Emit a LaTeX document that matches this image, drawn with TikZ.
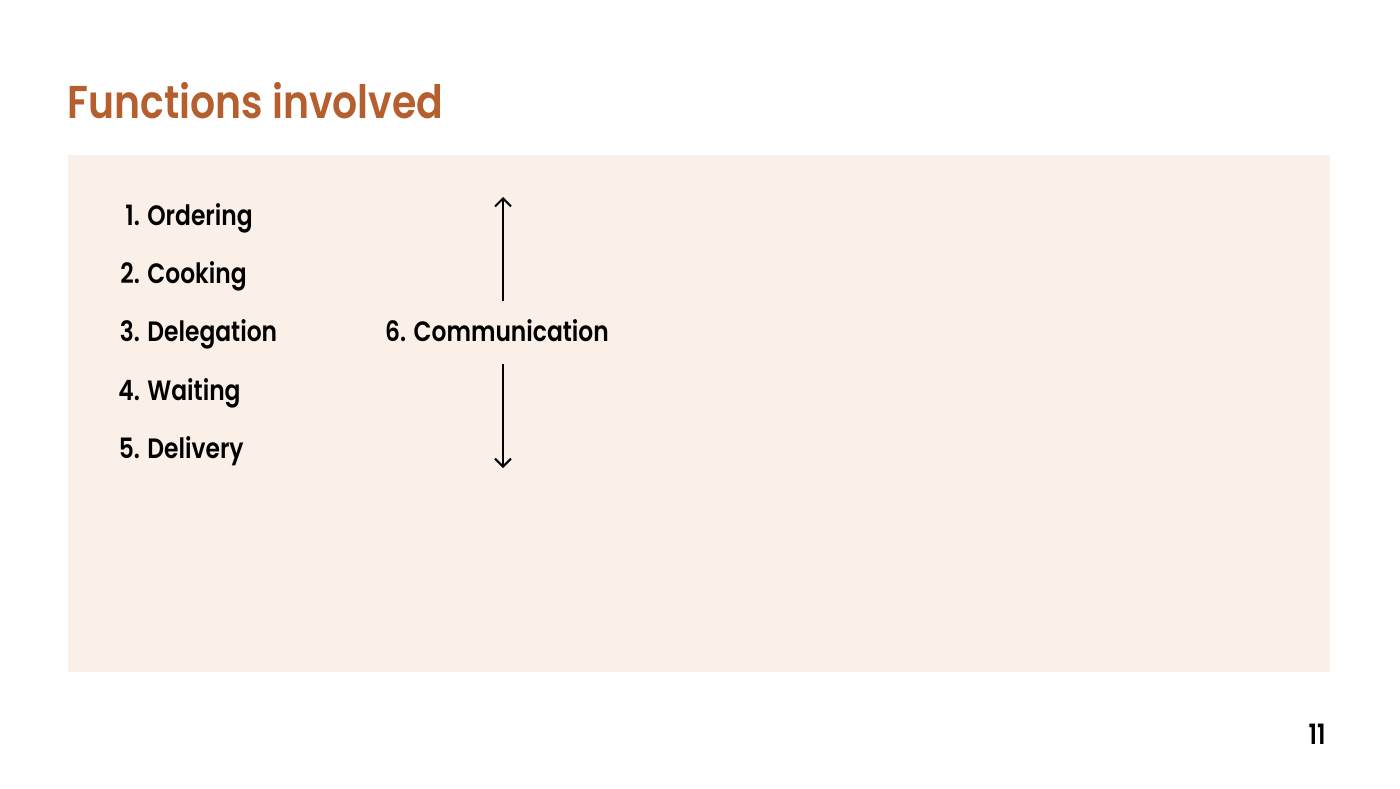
\documentclass[tikz,border=0pt]{standalone}
\usepackage{fontspec}
\setmainfont{Poppins}
\newfontfamily\popsemi{Poppins SemiBold}[FakeStretch=0.835]
\newfontfamily\popttl{Poppins SemiBold}[FakeStretch=0.856]
\usetikzlibrary{arrows.meta}
\definecolor{panel}{HTML}{FAF0E8}
\definecolor{titlec}{HTML}{B55E2E}
\tikzset{
  item/.style={anchor=base west, inner sep=0pt, font=\popsemi\fontsize{14}{16}\selectfont, text=black},
  ttl/.style={anchor=base west, inner sep=0pt, font=\popttl\fontsize{23}{26}\selectfont, text=titlec},
  arr/.style={draw=black, line width=1pt, -{Straight Barb[length=4pt,width=8pt]}}
}
\begin{document}
\begin{tikzpicture}[x=0.5pt,y=-0.5pt]
\useasboundingbox (0,0) rectangle (1400,788);
\fill[white] (0,0) rectangle (1400,788);
\fill[panel] (68,155) rectangle (1330,672);
\node[ttl] (title) at (67,118) {Functions involved};
\node[item] (i1) at (147,225) {\llap{1. }Ordering};
\node[item] (i2) at (147,283) {\llap{2. }Cooking};
\node[item] (i3) at (147,341) {\llap{3. }Delegation};
\node[item] (i4) at (147,400) {\llap{4. }Waiting};
\node[item] (i5) at (147,458) {\llap{5. }Delivery};
\node[item, anchor=base] (comm) at (497,341) {6. Communication};
\coordinate (top) at (503,197);
\coordinate (bot) at (503,468);
\coordinate (ts) at (503,301);
\coordinate (bs) at (503,364);
\draw[arr] (ts) -- (top);
\draw[arr] (bs) -- (bot);
\node[item, anchor=base east] (pg) at (1326,744) {11};
\end{tikzpicture}
\end{document}
